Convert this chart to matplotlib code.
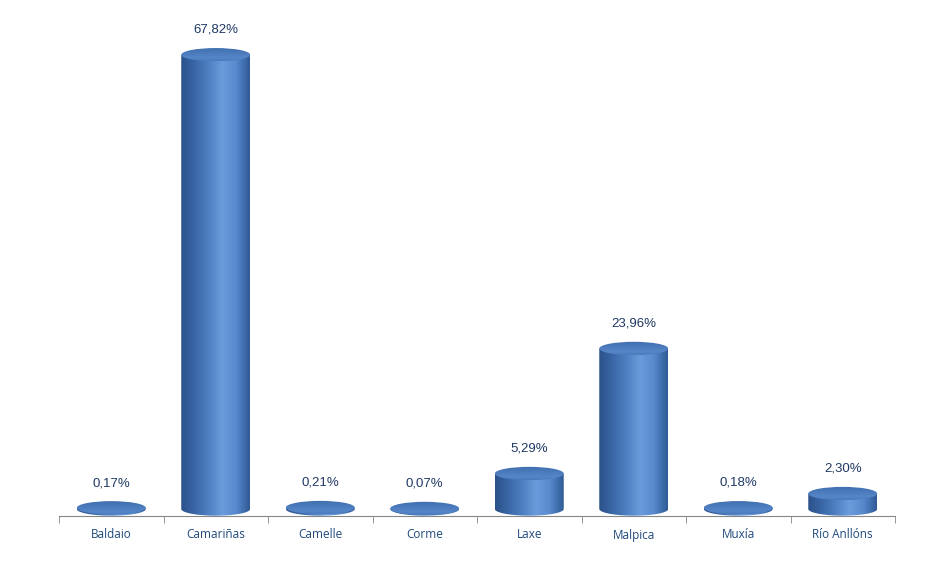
import numpy as np
import matplotlib
matplotlib.use("Agg")
import matplotlib.pyplot as plt
from matplotlib.path import Path
from matplotlib.patches import Ellipse, PathPatch
from matplotlib.colors import LinearSegmentedColormap

# datos
categorias = ["Baldaio", "Camariñas", "Camelle", "Corme", "Laxe", "Malpica", "Muxía", "Río Anllóns"]
valores = [0.17, 67.82, 0.21, 0.07, 5.29, 23.96, 0.18, 2.30]
etiquetas = ["0,17%", "67,82%", "0,21%", "0,07%", "5,29%", "23,96%", "0,18%", "2,30%"]

ancho = 0.66      # ancho del cilindro (unidades de categoria)
alto_elipse = 2.0  # alto de la elipse (unidades de %)

fig = plt.figure(figsize=(9.5, 5.73), dpi=100)
ax = fig.add_axes([59 / 950, 57 / 573, 836 / 950, 506 / 573])
ax.set_xlim(-0.5, len(categorias) - 0.5)
ax.set_ylim(-1.05, 74.5)

cuerpo = LinearSegmentedColormap.from_list(
    "cuerpo", ["#2b5189", "#3a67a7", "#4f80c2", "#6a9bdb", "#5889cd", "#2f5a96"])
tapa = LinearSegmentedColormap.from_list(
    "tapa", ["#3a67a6", "#5586c8", "#4675b6", "#3562a1"])

gx = np.linspace(0, 1, 256).reshape(1, -1)
gy = np.linspace(0, 1, 128).reshape(-1, 1)

for i, v in enumerate(valores):
    x0, x1 = i - ancho / 2, i + ancho / 2
    h = alto_elipse / 2
    # cuerpo: rectangulo + media elipse inferior
    t = np.linspace(np.pi, 2 * np.pi, 60)
    pts = [(x0, v), (x0, 0)]
    pts += list(zip(i + ancho / 2 * np.cos(t), h * np.sin(t)))
    pts += [(x1, 0), (x1, v), (x0, v)]
    codes = [Path.MOVETO] + [Path.LINETO] * (len(pts) - 2) + [Path.CLOSEPOLY]
    clip = PathPatch(Path(pts, codes), transform=ax.transData, facecolor="none", edgecolor="none")
    ax.add_patch(clip)
    im = ax.imshow(gx, cmap=cuerpo, aspect="auto", extent=[x0, x1, -h, v],
                   interpolation="bicubic", zorder=2)
    im.set_clip_path(clip)

    # tapa superior
    el = Ellipse((i, v), ancho, alto_elipse, transform=ax.transData,
                 facecolor="none", edgecolor="none")
    ax.add_patch(el)
    im2 = ax.imshow(gy[::-1] * 0.6 + 0.2, cmap=tapa, vmin=0, vmax=1, aspect="auto",
                    extent=[x0, x1, v - h, v + h], interpolation="bicubic", zorder=3)
    im2.set_clip_path(el)

    ax.text(i, v + 3.7, etiquetas[i], ha="center", va="center", fontsize=9.5,
            color="#1f3864", family="Liberation Sans")

ax.set_xticks(range(len(categorias)))
ax.set_xticklabels(categorias, fontsize=8.5, color="#1f497d", family="Open Sans")
ax.set_xticks(np.arange(-0.5, len(categorias)), minor=True)
ax.tick_params(axis="x", which="major", length=0, pad=9)
ax.tick_params(axis="x", which="minor", length=5, color="#868686", direction="out")
ax.set_yticks([])
for s in ["top", "right", "left"]:
    ax.spines[s].set_visible(False)
ax.spines["bottom"].set_color("#868686")
ax.spines["bottom"].set_zorder(1)

fig.savefig("out.png", dpi=100)
